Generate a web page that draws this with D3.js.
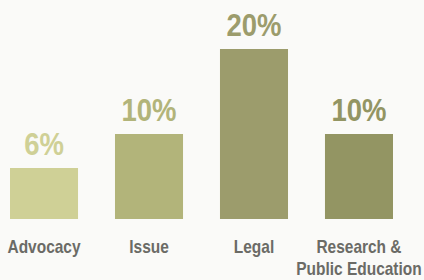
<!DOCTYPE html>
<html>
<head>
<meta charset="utf-8">
<script src="https://cdn.jsdelivr.net/npm/d3@7"></script>
<style>
  body { margin: 0; background: #fafaf8; }
  svg { display: block; }
</style>
</head>
<body>
<div id="chart"></div>
<script>
var categories = ['Advocacy', 'Issue', 'Legal', 'Research & Public Education'];
var values = [6, 10, 20, 10];
var valueLabels = ['6%', '10%', '20%', '10%'];
var barColors = ['#cfd096', '#b2b47a', '#9c9c6c', '#939563'];

var w = 424;
var h = 280;
var baseY = 219;
// squeeze text horizontally to look like a condensed face
var squeeze = 0.86;

var svg = d3.select('#chart')
	.append('svg')
	.attr('width', w)
	.attr('height', h);

var xScale = d3.scaleBand()
	.domain(categories)
	.range([10, 393])
	.paddingInner(0.352)
	.paddingOuter(0);

var yScale = d3.scaleLinear()
	.domain([0, 20])
	.range([baseY, 49]);

var font = "'Liberation Sans', Arial, sans-serif";

svg.selectAll('rect')
	.data(categories)
	.enter()
	.append('rect')
	.attr('x', function (d) { return xScale(d); })
	.attr('y', function (d, i) { return yScale(values[i]); })
	.attr('width', xScale.bandwidth())
	.attr('height', function (d, i) { return baseY - yScale(values[i]); })
	.attr('fill', function (d, i) { return barColors[i]; });

svg.selectAll('g.val')
	.data(categories)
	.enter()
	.append('g')
	.attr('class', 'val')
	.attr('transform', function (d, i) {
		return 'translate(' + (xScale(d) + xScale.bandwidth() / 2) + ',' + (yScale(values[i]) - 13) + ') scale(' + squeeze + ',1)';
	})
	.append('text')
	.text(function (d, i) { return valueLabels[i]; })
	.attr('text-anchor', 'middle')
	.attr('font-family', font)
	.attr('font-weight', 'bold')
	.attr('font-size', '32px')
	.attr('fill', function (d, i) { return barColors[i]; });

svg.selectAll('g.cat')
	.data(categories)
	.enter()
	.append('g')
	.attr('class', 'cat')
	.attr('transform', function (d) {
		return 'translate(' + (xScale(d) + xScale.bandwidth() / 2) + ',253) scale(' + squeeze + ',1)';
	})
	.each(function (d) {
		var lines = d === 'Research & Public Education' ? ['Research &', 'Public Education'] : [d];
		var t = d3.select(this).append('text')
			.attr('text-anchor', 'middle')
			.attr('font-family', font)
			.attr('font-weight', 'bold')
			.attr('font-size', '18px')
			.attr('fill', '#6b6b66');
		lines.forEach(function (line, j) {
			t.append('tspan')
				.attr('x', 0)
				.attr('y', j * 22)
				.text(line);
		});
	});
</script>
</body>
</html>
